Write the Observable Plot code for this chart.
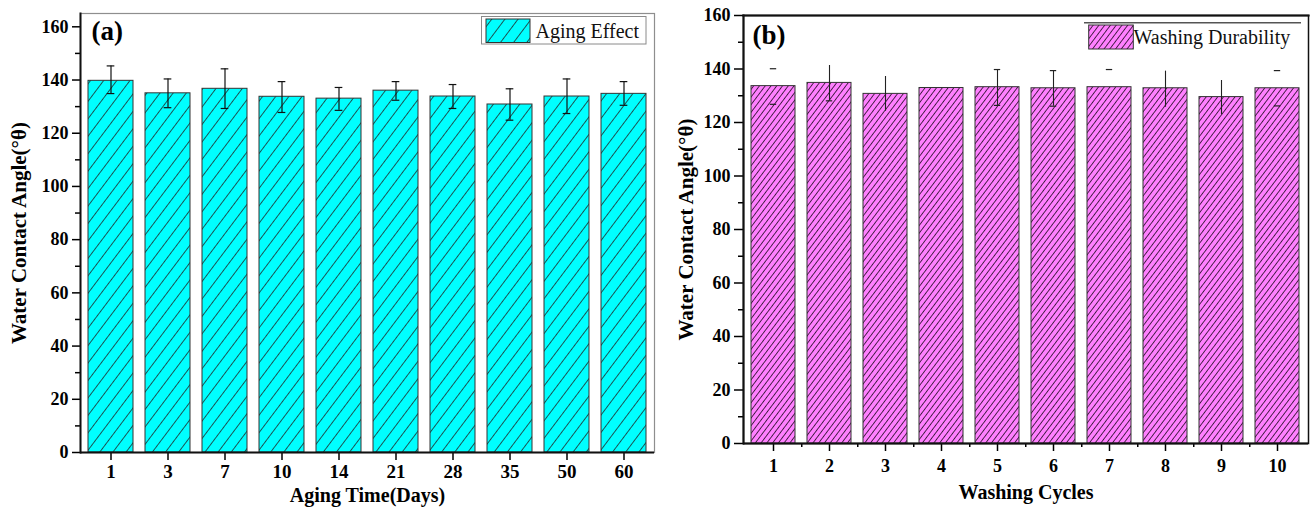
<!DOCTYPE html>
<html><head><meta charset="utf-8">
<script src="https://cdn.jsdelivr.net/npm/d3@7"></script>
<script src="https://cdn.jsdelivr.net/npm/@observablehq/plot@0.6"></script>
<style>
html,body{margin:0;padding:0;background:#fff;overflow:hidden}
#wrap{position:relative;width:1311px;height:509px}
#pa{position:absolute;left:0;top:0}
#pb{position:absolute;left:660px;top:0}
</style></head><body>
<div id="wrap"><div id="pa"></div><div id="pb"></div></div>
<script>
// ---------- data ----------
const agingDays = ["1","3","7","10","14","21","28","35","50","60"];
const agingWCA  = [139.7,135.0,136.7,133.7,133.0,136.0,133.8,130.8,133.8,134.8];
const agingLow  = [134.9,129.6,129.3,127.8,128.6,132.4,129.3,124.9,127.4,130.5];
const agingHigh = [145.3,140.4,144.2,139.4,137.2,139.4,138.3,136.7,140.4,139.4];

const washCycles = ["1","2","3","4","5","6","7","8","9","10"];
const washWCA  = [133.6,134.8,130.7,132.9,133.2,132.8,133.2,132.8,129.5,132.8];
const washLow  = [126.8,128.1,124.2,null,126.4,126.1,126.6,125.7,122.9,126.2];
const washHigh = [140.1,141.3,137.2,null,139.8,139.4,139.8,139.2,135.7,139.4];
const washStem    = [false,true,true,false,true,true,false,true,true,false];
const washCapLow  = [true,true,false,false,true,true,false,false,false,true];
const washCapHigh = [true,false,false,false,true,true,true,false,false,true];

const yMajor = [0,20,40,60,80,100,120,140,160];
const yMinor = [10,30,50,70,90,110,130,150];

const seriesNames = ["Aging Effect","Washing Durability"];
const panelTags = ["(a)","(b)"];
const xTitles = ["Aging Time(Days)","Washing Cycles"];
const yTitle = "Water Contact Angle(\u00B0\u03B8)";

// ---------- helpers ----------
const FONT = `"Liberation Serif","Times New Roman",serif`;

function addPattern(svg, id, fill, lineColor, spacing, lw) {
  const defs = d3.select(svg).insert("defs", ":first-child");
  const p = defs.append("pattern").attr("id", id)
    .attr("patternUnits", "userSpaceOnUse")
    .attr("width", spacing).attr("height", spacing)
    .attr("patternTransform", "rotate(37)");
  p.append("rect").attr("width", spacing).attr("height", spacing).attr("fill", fill);
  p.append("line").attr("x1", spacing/2).attr("x2", spacing/2).attr("y1", -1).attr("y2", spacing+1)
    .attr("stroke", lineColor).attr("stroke-width", lw);
}

// ---------- panel (a) ----------
const agingData = agingDays.map((d,i)=>({day:d, wca:agingWCA[i], lo:agingLow[i], hi:agingHigh[i]}));
const WA=660, HA=509, mlA=80, mrA=6, mtA=13, mbA=57, padI=0.21;
const stepA = (WA-mlA-mrA)/agingDays.length, bwA = stepA*(1-padI), capA=(bwA-8)/2;

const chartA = Plot.plot({
  width: WA, height: HA,
  marginLeft: mlA, marginRight: mrA, marginTop: mtA, marginBottom: mbA,
  style: {fontFamily: FONT, fontSize: "18px", color: "#000", background: "#fff"},
  x: {domain: agingDays, paddingInner: padI, paddingOuter: padI/2},
  y: {domain: [0,165]},
  marks: [
    Plot.frame({stroke: "#8e8e8e", strokeWidth: 1.2}),
    Plot.barY(agingData, {x:"day", y:"wca", fill:"url(#hatchA)", stroke:"#333", strokeWidth:1}),
    Plot.ruleX(agingData, {x:"day", y1:"lo", y2:"hi", stroke:"#111", strokeWidth:1.2}),
    Plot.tickY(agingData, {x:"day", y:"hi", insetLeft:capA, insetRight:capA, stroke:"#111", strokeWidth:1.2}),
    Plot.tickY(agingData, {x:"day", y:"lo", insetLeft:capA, insetRight:capA, stroke:"#111", strokeWidth:1.2}),
    Plot.axisY(yMajor, {tickSize:8, tickPadding:4, fontSize:18, fontWeight:"bold", strokeWidth:1.5, label:null}),
    Plot.axisY(yMinor, {tickSize:5, tickFormat:()=>"", strokeWidth:1.5, label:null}),
    Plot.axisX({tickSize:8, tickPadding:4, fontSize:19, fontWeight:"bold", strokeWidth:1.5, label:null}),
    Plot.frame({anchor:"left", stroke:"#111", strokeWidth:2}),
    Plot.ruleY([0], {stroke:"#111", strokeWidth:2}),
    Plot.text([xTitles[0]], {frameAnchor:"bottom", dy:35, lineAnchor:"top", textAnchor:"middle", fontSize:20, fontWeight:"bold"}),
    Plot.text([yTitle], {frameAnchor:"left", rotate:-90, dx:-69, lineAnchor:"top", textAnchor:"middle", fontSize:21, fontWeight:"bold"}),
    Plot.text([panelTags[0]], {frameAnchor:"top-left", dx:11, dy:7, lineAnchor:"top", textAnchor:"start", fontSize:27, fontWeight:"bold"})
  ]
});
addPattern(chartA, "hatchA", "#00FFFF", "#1d4646", 10.5, 0.9);
{
  const g = d3.select(chartA).append("g").attr("font-family", FONT);
  g.append("rect").attr("x",481.5).attr("y",16.5).attr("width",164.5).attr("height",27.5)
    .attr("fill","#fff").attr("stroke","#8a8a8a").attr("stroke-width",1);
  g.append("rect").attr("x",486).attr("y",19).attr("width",44).attr("height",23.5)
    .attr("fill","url(#hatchA)").attr("stroke","#333");
  g.append("text").attr("x",535.5).attr("y",37.5).attr("font-size",20).attr("text-anchor","start")
    .attr("fill","#111").text(seriesNames[0]);
}
document.getElementById("pa").append(chartA);

// ---------- panel (b) ----------
const washData = washCycles.map((c,i)=>({c, wca:washWCA[i], lo:washLow[i], hi:washHigh[i],
  stem:washStem[i], capLo:washCapLow[i], capHi:washCapHigh[i]}));
const WB=651, HB=509, mlB=83, mrB=3, mtB=15, mbB=66;
const stepB = (WB-mlB-mrB)/washCycles.length, bwB = stepB*(1-padI), capB=(bwB-7)/2;

const chartB = Plot.plot({
  width: WB, height: HB,
  marginLeft: mlB, marginRight: mrB, marginTop: mtB, marginBottom: mbB,
  style: {fontFamily: FONT, fontSize: "18px", color: "#000", background: "#fff"},
  x: {domain: washCycles, paddingInner: padI, paddingOuter: padI/2},
  y: {domain: [0,160]},
  marks: [
    Plot.frame({stroke: "#111", strokeWidth: 1.5}),
    Plot.frame({anchor:"top", stroke:"#111", strokeWidth:2.2}),
    Plot.barY(washData, {x:"c", y:"wca", fill:"url(#hatchB)", stroke:"#333", strokeWidth:1}),
    Plot.ruleX(washData, {filter:d=>d.stem, x:"c", y1:"lo", y2:"hi", stroke:"#222", strokeWidth:1.1}),
    Plot.tickY(washData, {filter:d=>d.capHi, x:"c", y:"hi", insetLeft:capB, insetRight:capB, stroke:"#222", strokeWidth:1.2}),
    Plot.tickY(washData, {filter:d=>d.capLo, x:"c", y:"lo", insetLeft:capB, insetRight:capB, stroke:"#222", strokeWidth:1.2}),
    Plot.axisY(yMajor, {tickSize:9, tickPadding:4, fontSize:18, fontWeight:"bold", strokeWidth:1.5, label:null}),
    Plot.axisY(yMinor, {tickSize:5, tickFormat:()=>"", strokeWidth:1.5, label:null}),
    Plot.axisX({tickSize:8, tickPadding:8, fontSize:18, fontWeight:"bold", strokeWidth:1.5, label:null}),
    Plot.axisX(washCycles.slice(0,-1), {tickSize:4, dx:stepB/2, tickFormat:()=>"", strokeWidth:1.5, label:null}),
    Plot.frame({anchor:"left", stroke:"#111", strokeWidth:2}),
    Plot.ruleY([0], {stroke:"#111", strokeWidth:2}),
    Plot.text([xTitles[1]], {frameAnchor:"bottom", dy:41, lineAnchor:"top", textAnchor:"middle", fontSize:20, fontWeight:"bold"}),
    Plot.text([yTitle], {frameAnchor:"left", rotate:-90, dx:-65, lineAnchor:"top", textAnchor:"middle", fontSize:21, fontWeight:"bold"}),
    Plot.text([panelTags[1]], {frameAnchor:"top-left", dx:9, dy:9, lineAnchor:"top", textAnchor:"start", fontSize:27, fontWeight:"bold"})
  ]
});
addPattern(chartB, "hatchB", "#FF80FF", "#3c1a3c", 4.6, 0.9);
{
  const g = d3.select(chartB).append("g").attr("font-family", FONT);
  g.append("line").attr("x1",424).attr("x2",641).attr("y1",22.7).attr("y2",22.7)
    .attr("stroke","#555").attr("stroke-width",1.5);
  g.append("rect").attr("x",428.7).attr("y",25).attr("width",44.6).attr("height",24)
    .attr("fill","url(#hatchB)").attr("stroke","#333");
  g.append("text").attr("x",473.5).attr("y",44).attr("font-size",20).attr("text-anchor","start")
    .attr("fill","#111").text(seriesNames[1]);
}
document.getElementById("pb").append(chartB);
</script>
</body></html>
